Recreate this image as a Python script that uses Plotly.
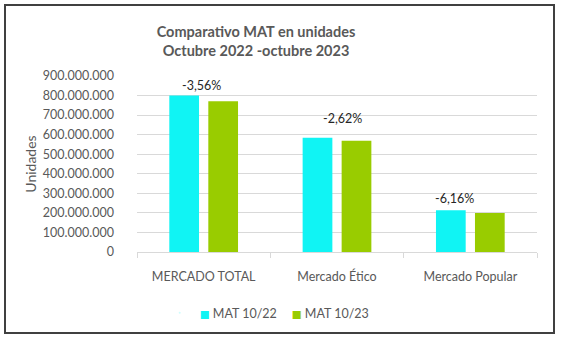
import plotly.graph_objects as go

categories = ["MERCADO TOTAL", "Mercado Ético", "Mercado Popular"]
mat_10_22 = [800_000_000, 584_000_000, 213_000_000]
mat_10_23 = [771_500_000, 568_700_000, 199_900_000]
pct_change = [-3.56, -2.62, -6.16]
series_names = ["MAT 10/22", "MAT 10/23"]
series_colors = ["#10F4F4", "#99CC00"]
y_ticks = [0, 100_000_000, 200_000_000, 300_000_000, 400_000_000,
           500_000_000, 600_000_000, 700_000_000, 800_000_000, 900_000_000]

FONT = "Lato"
GRAY = "#595959"

W, H = 567, 337
ML, MR, MT, MB = 137, 30, 76, 85
pw, ph = W - ML - MR, H - MT - MB

fig = go.Figure()
for name, vals, col in zip(series_names, [mat_10_22, mat_10_23], series_colors):
    fig.add_trace(go.Bar(name=name, x=categories, y=vals, showlegend=False,
                         marker=dict(color=col, line=dict(width=0))))
# legend entries: small coloured square drawn as text glyph
for name, col in zip(series_names, series_colors):
    fig.add_trace(go.Scatter(
        x=[None], y=[None], mode="markers",
        marker=dict(size=1, opacity=0, color=col),
        name=f"<span style='color:{col};font-family:DejaVu Sans;font-size:10.5px'>■</span> {name}",
        showlegend=True))
# spacer entry so the legend box is wide enough
fig.add_trace(go.Scatter(x=[None], y=[None], mode="markers",
                         marker=dict(size=1, opacity=0), name=" ",
                         showlegend=True, hoverinfo="skip"))

shifts = [(-2, 1), (5, 10), (-16, 2)]
for cat, v, p, (dx, dy) in zip(categories, mat_10_22, pct_change, shifts):
    fig.add_annotation(x=cat, y=v, text=f"{p:.2f}%".replace(".", ","),
                       showarrow=False, xanchor="center", yanchor="bottom",
                       xshift=dx, yshift=dy,
                       font=dict(family=FONT, size=12.5, color="#262626"))

def px_x(x):
    return (x - ML) / pw
def px_y(y):
    return (H - MB - y) / ph

fig.add_shape(type="rect", xref="paper", yref="paper",
              x0=px_x(5), x1=px_x(554), y0=px_y(5), y1=px_y(333),
              line=dict(color="#404040", width=2), fillcolor="rgba(0,0,0,0)",
              layer="below")

fig.update_layout(
    width=W, height=H,
    margin=dict(l=ML, r=MR, t=MT, b=MB, pad=0),
    paper_bgcolor="white", plot_bgcolor="white",
    separators=",.",
    barmode="group", bargap=0.415, bargroupgap=0.238,
    font=dict(family=FONT, size=12, color=GRAY),
    title=dict(text="<b>Comparativo MAT en unidades<br>Octubre 2022 -octubre 2023</b>",
               x=256 / W, xanchor="center", xref="container",
               y=1 - 37 / H, yanchor="middle", yref="container",
               font=dict(family=FONT, size=14.5, color=GRAY)),
    legend=dict(orientation="h", x=(201.7 - 42) / W, xanchor="left", xref="container",
                y=(H - 313) / H, yanchor="middle", yref="container",
                font=dict(family=FONT, size=12.5, color=GRAY),
                itemwidth=30, entrywidth=47, entrywidthmode="pixels",
                tracegroupgap=0, bgcolor="rgba(0,0,0,0)"),
    showlegend=True,
)
fig.update_yaxes(range=[0, 900_000_000], tickvals=y_ticks, tickformat=",d",
                 showgrid=True, gridcolor="#d9d9d9", gridwidth=1,
                 zeroline=False, showline=False, ticks="",
                 ticklabelstandoff=22,
                 tickfont=dict(family=FONT, size=12.5, color=GRAY),
                 title=dict(text="Unidades", standoff=2,
                            font=dict(family=FONT, size=14, color=GRAY)))
fig.update_xaxes(showline=True, linecolor="#d9d9d9", linewidth=1,
                 ticks="outside", tickson="boundaries", ticklen=5,
                 tickcolor="#d9d9d9", showgrid=False,
                 ticklabelstandoff=13,
                 tickfont=dict(family=FONT, size=12.5, color=GRAY))

fig.write_html("out.html")
